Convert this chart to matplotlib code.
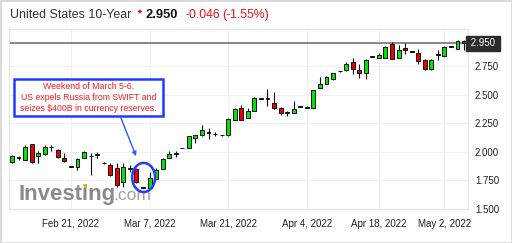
import matplotlib
matplotlib.use("Agg")
import matplotlib.pyplot as plt
from matplotlib.patches import Rectangle, Ellipse, FancyArrowPatch
import numpy as np

plt.rcParams['font.family'] = ['Liberation Sans', 'DejaVu Sans']

# OHLC data
opens = [1.911, 1.946, 1.928, 2.066, 1.963, 1.980, 2.040, 2.015, 1.946, 1.870,
         1.868, 1.946, 1.960, 1.971, 1.905, 1.885, 1.859, 1.739, 1.851, 1.851,
         1.690, 1.687, 1.765, 1.851, 1.946, 1.985, 2.034, 2.032, 2.118, 2.144,
         2.178, 2.153, 2.146, 2.144, 2.282, 2.385, 2.299, 2.359, 2.465, 2.463,
         2.428, 2.385, 2.342, 2.342, 2.396, 2.394, 2.385, 2.558, 2.592, 2.635,
         2.706, 2.713, 2.782, 2.713, 2.687, 2.836, 2.825, 2.825, 2.946, 2.825,
         2.911, 2.879, 2.868, 2.808, 2.722, 2.851, 2.842, 2.922, 2.903, 2.972]
highs = [1.971, 1.963, 2.058, 2.070, 2.006, 2.058, 2.058, 2.023, 1.989, 1.872,
         1.946, 2.006, 1.989, 1.997, 1.907, 1.903, 1.903, 1.903, 1.885, 1.859,
         1.692, 1.825, 1.859, 1.946, 2.006, 2.006, 2.036, 2.140, 2.150, 2.239,
         2.213, 2.170, 2.148, 2.295, 2.380, 2.411, 2.385, 2.476, 2.467, 2.549,
         2.523, 2.390, 2.359, 2.446, 2.398, 2.398, 2.545, 2.653, 2.660, 2.690,
         2.708, 2.782, 2.825, 2.773, 2.812, 2.838, 2.868, 2.925, 2.963, 2.937,
         2.954, 2.881, 2.903, 2.812, 2.812, 2.894, 2.925, 2.924, 2.976, 2.980]
lows = [1.903, 1.928, 1.928, 1.900, 1.903, 1.975, 2.006, 1.950, 1.915, 1.864,
        1.842, 1.946, 1.799, 1.946, 1.898, 1.791, 1.696, 1.696, 1.825, 1.730,
        1.683, 1.678, 1.765, 1.851, 1.946, 1.954, 2.030, 2.030, 2.075, 2.140,
        2.109, 2.140, 2.142, 2.140, 2.280, 2.280, 2.297, 2.357, 2.461, 2.403,
        2.377, 2.325, 2.316, 2.340, 2.392, 2.383, 2.383, 2.555, 2.590, 2.633,
        2.702, 2.711, 2.678, 2.644, 2.635, 2.832, 2.823, 2.823, 2.814, 2.823,
        2.859, 2.875, 2.765, 2.713, 2.720, 2.808, 2.840, 2.918, 2.900, 2.894]
closes = [1.963, 1.950, 2.041, 1.911, 1.989, 2.041, 2.045, 1.954, 1.920, 1.866,
          1.937, 1.997, 1.963, 1.971, 1.900, 1.799, 1.713, 1.868, 1.855, 1.739,
          1.685, 1.773, 1.842, 1.937, 1.980, 1.985, 2.032, 2.135, 2.144, 2.187,
          2.161, 2.153, 2.144, 2.290, 2.377, 2.282, 2.359, 2.472, 2.463, 2.463,
          2.385, 2.342, 2.342, 2.377, 2.394, 2.385, 2.541, 2.592, 2.653, 2.687,
          2.704, 2.765, 2.722, 2.687, 2.808, 2.834, 2.851, 2.920, 2.816, 2.894,
          2.894, 2.877, 2.799, 2.722, 2.808, 2.851, 2.920, 2.920, 2.972, 2.950]

tick_pos = [9, 21, 33, 45, 56, 66]
tick_labels = ["Feb 21, 2022", "Mar 7, 2022", "Mar 21, 2022", "Apr 4, 2022",
               "Apr 18, 2022", "May 2, 2022"]
y_ticks = [1.5, 1.75, 2.0, 2.25, 2.5, 2.75]
last_price = 2.950

W, H = 512, 243
fig = plt.figure(figsize=(W / 100, H / 100), dpi=100)
fig.patch.set_facecolor('white')
ax = fig.add_axes([9 / W, 1 - 209 / H, (468 - 9) / W, (209 - 29) / H])

x = np.arange(len(opens))
o = np.array(opens); c = np.array(closes)
hi = np.array(highs); lo = np.array(lows)
up = c >= o
colors = np.where(up, '#00e600', '#e60000')
bottoms = np.minimum(o, c)
heights = np.maximum(np.abs(c - o), 0.006)

ax.vlines(x, lo, hi, color='#111111', linewidth=0.8, zorder=2)
ax.bar(x, heights, bottom=bottoms, width=0.6, color=colors,
       edgecolor='#111111', linewidth=0.7, zorder=3)

ax.axhline(last_price, color='#666666', linewidth=1.1, zorder=1)

ax.set_xlim(-0.45, len(opens) - 0.4)
ax.set_ylim(1.5, 3.075)
ax.set_xticks(tick_pos)
ax.set_xticklabels(tick_labels)
ax.set_yticks(y_ticks)
ax.set_yticklabels([f"{v:.3f}" for v in y_ticks])
ax.yaxis.tick_right()
ax.tick_params(axis='both', length=0, labelsize=7, colors='#222222')
ax.tick_params(axis='y', pad=5)
ax.tick_params(axis='x', pad=7)
ax.grid(True, color='#f0f0f0', linewidth=0.8, zorder=0)
ax.set_axisbelow(True)
for s in ax.spines.values():
    s.set_color('#e4e4e4')
    s.set_linewidth(0.8)

# price label on the right
ax.text(1.0, last_price, " 2.950 ", transform=ax.get_yaxis_transform(),
        ha='left', va='center', fontsize=7, color='white',
        bbox=dict(boxstyle='square,pad=0.25', fc='#2b2b2b', ec='#2b2b2b'),
        clip_on=False, zorder=5)

# Header
fig.text(10 / W, 1 - 15 / H, "United States 10-Year", fontsize=8.9,
         color='#333333', va='center', ha='left')
fig.text(140 / W, 1 - 12 / H, "✦", fontsize=5, color='#e60000',
         va='center', ha='center', family=['DejaVu Sans'])
fig.text(146 / W, 1 - 15 / H, "2.950", fontsize=9.3, color='#111111',
         fontweight='bold', va='center', ha='left')
fig.text(186 / W, 1 - 15 / H, "-0.046", fontsize=8.8, color='#ee1111',
         va='center', ha='left')
fig.text(222 / W, 1 - 15 / H, "(-1.55%)", fontsize=8.8, color='#ee1111',
         va='center', ha='left')

# Investing.com watermark (behind the candles)
ax.text(19 / W, 1 - 200 / H, "Investing", fontsize=16, color='#8a8a8a',
        fontweight='bold', va='baseline', ha='left', transform=fig.transFigure,
        zorder=1)
ax.text(113 / W, 1 - 200 / H, ".com", fontsize=12.5, color='#a0a0a0',
        va='baseline', ha='left', transform=fig.transFigure, zorder=1)
ax.add_patch(Rectangle((84 / W, 1 - 188 / H), 3 / W, 4 / H,
                       transform=fig.transFigure, fc='#f5a623', ec='none',
                       zorder=1.5))

# Annotation box
fig.patches.append(Rectangle((14 / W, 1 - 116 / H), 149 / W, 37 / H,
                             transform=fig.transFigure, fc='white',
                             ec='#1f3cff', linewidth=1.8, zorder=4))
fig.text(88.5 / W, 1 - 97.5 / H,
         "Weekend of March 5-6.\nUS expels Russia from SWIFT and\nseizes $400B in currency reserves.",
         fontsize=6.35, color='#ff1a1a', ha='center', va='center',
         linespacing=1.3, zorder=5)

arrow = FancyArrowPatch((16.5, 2.316), (19.1, 1.94), arrowstyle='-|>',
                        mutation_scale=6, color='#2a5cff', linewidth=1.0,
                        zorder=6)
ax.add_patch(arrow)
ax.add_patch(Ellipse((20.1, 1.776), 3.5, 0.254, fill=False, ec='#1f3cff',
                     linewidth=1.8, zorder=6))

# figure frame
fig.patches.append(Rectangle((0, 0), 1, 1, transform=fig.transFigure,
                             fill=False, ec='#d8d8d8', linewidth=2))

fig.savefig("out.png", dpi=100, facecolor='white')
